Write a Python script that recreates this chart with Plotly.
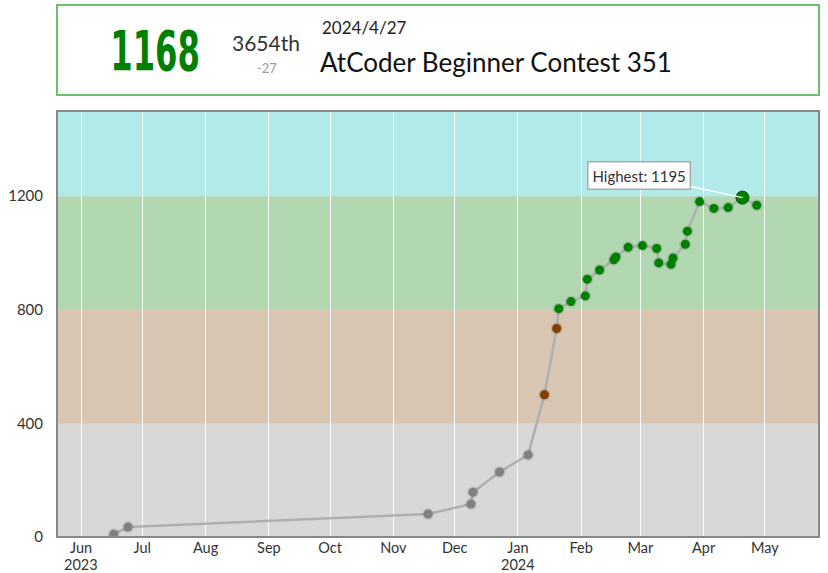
import plotly.graph_objects as go

# ---------------- data ----------------
dates = ["2023-06-17", "2023-06-24", "2023-11-18", "2023-12-09", "2023-12-10",
         "2023-12-23", "2024-01-06", "2024-01-14", "2024-01-20", "2024-01-21",
         "2024-01-27", "2024-02-03", "2024-02-04", "2024-02-10", "2024-02-17",
         "2024-02-18", "2024-02-24", "2024-03-02", "2024-03-09", "2024-03-10",
         "2024-03-16", "2024-03-17", "2024-03-23", "2024-03-24", "2024-03-30",
         "2024-04-06", "2024-04-13", "2024-04-20", "2024-04-27"]
ratings = [10, 35, 81, 116, 158, 229, 289, 501, 734, 804, 829, 849, 908, 940,
           976, 986, 1020, 1026, 1016, 965, 960, 982, 1031, 1077, 1181, 1157,
           1160, 1195, 1168]

band_edges = [0, 400, 800, 1200, 1500]
band_colors = ["rgb(216,216,216)", "rgb(216,197,178)", "rgb(178,216,178)", "rgb(178,234,234)"]
tier_colors = ["#808080", "#804000", "#008000", "#00C0C0"]

month_ticks = ["2023-06-01", "2023-07-01", "2023-08-01", "2023-09-01", "2023-10-01",
               "2023-11-01", "2023-12-01", "2024-01-01", "2024-02-01", "2024-03-01",
               "2024-04-01", "2024-05-01"]
month_labels = ["Jun", "Jul", "Aug", "Sep", "Oct", "Nov", "Dec",
                "Jan", "Feb", "Mar", "Apr", "May"]
year_ticks = ["2023-06-01", "2024-01-01"]
year_labels = ["2023", "2024"]
y_ticks = [0, 400, 800, 1200]

highest = 1195
current = 1168
rank = "3654th"
diff = "-27"
contest_date = "2024/4/27"
contest_name = "AtCoder Beginner Contest 351"

# ---------------- layout geometry ----------------
W, H = 828, 573
ML, MR, MT, MB = 57, 9, 111, 36
PW, PH = W - ML - MR, H - MT - MB


def px(x):
    return (x - ML) / PW


def py(y):
    return (H - MB - y) / PH


def tier_color(r):
    for i in range(len(band_edges) - 1):
        if r < band_edges[i + 1]:
            return tier_colors[i]
    return tier_colors[-1]


fig = go.Figure()

# line
fig.add_trace(go.Scatter(x=dates, y=ratings, mode="lines",
                         line=dict(color="rgb(175,175,175)", width=2.5),
                         hoverinfo="skip", showlegend=False))
# marker shadows
fig.add_trace(go.Scatter(x=dates, y=ratings, mode="markers",
                         marker=dict(size=12, color="rgba(0,0,0,0.10)", opacity=1),
                         hoverinfo="skip", showlegend=False))
# markers
sizes = [13 if r == highest else 9 for r in ratings]
fig.add_trace(go.Scatter(x=dates, y=ratings, mode="markers",
                         marker=dict(size=sizes, opacity=1,
                                     color=[tier_color(r) for r in ratings],
                                     line=dict(width=[1 if r == highest else 0 for r in ratings],
                                               color="#005a00")),
                         showlegend=False))

shapes = []
for i in range(len(band_colors)):
    shapes.append(dict(type="rect", xref="paper", yref="y", layer="below",
                       x0=0, x1=1, y0=band_edges[i], y1=band_edges[i + 1],
                       fillcolor=band_colors[i], line=dict(width=0)))
# plot frame
shapes.append(dict(type="rect", xref="paper", yref="paper", x0=0, x1=1, y0=0, y1=1,
                   line=dict(color="#888888", width=2)))
# header box
shapes.append(dict(type="rect", xref="paper", yref="paper",
                   x0=px(57), x1=px(819), y0=py(95), y1=py(5),
                   line=dict(color="#6cbf6c", width=2), fillcolor="white"))
fig.update_layout(shapes=shapes)

hi_idx = ratings.index(highest)
annotations = [
    dict(x=dates[hi_idx], y=highest, xref="x", yref="y", text="Highest: " + str(highest),
         showarrow=True, arrowhead=0, arrowcolor="rgba(255,255,255,0.95)", arrowwidth=1.5,
         ax=-103, ay=-22, font=dict(family="Lato", size=15, color="#333"),
         bgcolor="white", bordercolor="#aaaaaa", borderwidth=1.5, borderpad=4),
    dict(x=px(155), y=py(51), xref="paper", yref="paper", text="<b>" + str(current) + "</b>",
         showarrow=False, xanchor="center", yanchor="middle",
         font=dict(family="DejaVu Sans Condensed, DejaVu Sans, sans-serif",
                   size=56, color="#008000")),
    dict(x=px(266), y=py(42), xref="paper", yref="paper", text=rank, showarrow=False,
         xanchor="center", yanchor="middle", font=dict(family="Lato", size=21, color="#333")),
    dict(x=px(267), y=py(68), xref="paper", yref="paper", text=diff, showarrow=False,
         xanchor="center", yanchor="middle", font=dict(family="Lato", size=13, color="#999")),
    dict(x=px(320), y=py(28), xref="paper", yref="paper", text=contest_date, showarrow=False,
         xanchor="left", yanchor="middle", font=dict(family="Lato", size=17, color="#222")),
    dict(x=px(318), y=py(62), xref="paper", yref="paper", text=contest_name, showarrow=False,
         xanchor="left", yanchor="middle", font=dict(family="Lato", size=26, color="#111")),
]
for xv, lab in zip(year_ticks, year_labels):
    annotations.append(dict(x=xv, y=py(564.5), xref="x", yref="paper", text=lab,
                            showarrow=False, xanchor="center", yanchor="middle",
                            font=dict(family="Lato", size=14.5, color="#333")))

fig.update_layout(
    width=W, height=H,
    margin=dict(l=ML, r=MR, t=MT, b=MB, pad=0, autoexpand=False),
    paper_bgcolor="white", plot_bgcolor="rgb(216,216,216)",
    annotations=annotations,
    font=dict(family="Lato", size=15, color="#333"),
    xaxis=dict(type="date", range=["2023-05-20 05:00", "2024-05-27 12:00"],
               tickvals=month_ticks, ticktext=month_labels, automargin=False,
               showgrid=True, gridcolor="rgba(255,255,255,0.9)", gridwidth=1,
               zeroline=False, showline=False, ticks="", ticklabelstandoff=0,
               tickfont=dict(family="Lato", size=14.5, color="#333")),
    yaxis=dict(range=[0, 1500], tickvals=y_ticks, showgrid=False, zeroline=False,
               showline=False, ticks="", ticklabelstandoff=13, automargin=False,
               tickfont=dict(family="Lato", size=15, color="#333")),
    hovermode="closest",
)

# remove page margin and narrow the big rating numeral (condensed display face in the reference)
post = """
document.body.style.margin = '0';
document.body.style.overflow = 'hidden';
var gd = document.getElementById('{plot_id}');
function squeeze(){
  var t = gd.querySelector('.annotation[data-index="1"] .annotation-text');
  if(!t) return;
  t.removeAttribute('transform');
  var bb = t.getBBox();
  var cx = bb.x + bb.width/2, cy = bb.y + bb.height/2;
  t.setAttribute('transform', 'translate('+cx+','+cy+') scale(0.64,1) translate('+(-cx)+','+(-cy)+')');
}
squeeze();
gd.on('plotly_afterplot', squeeze);
"""

fig.write_html("out.html", post_script=post, config={"displayModeBar": False})
